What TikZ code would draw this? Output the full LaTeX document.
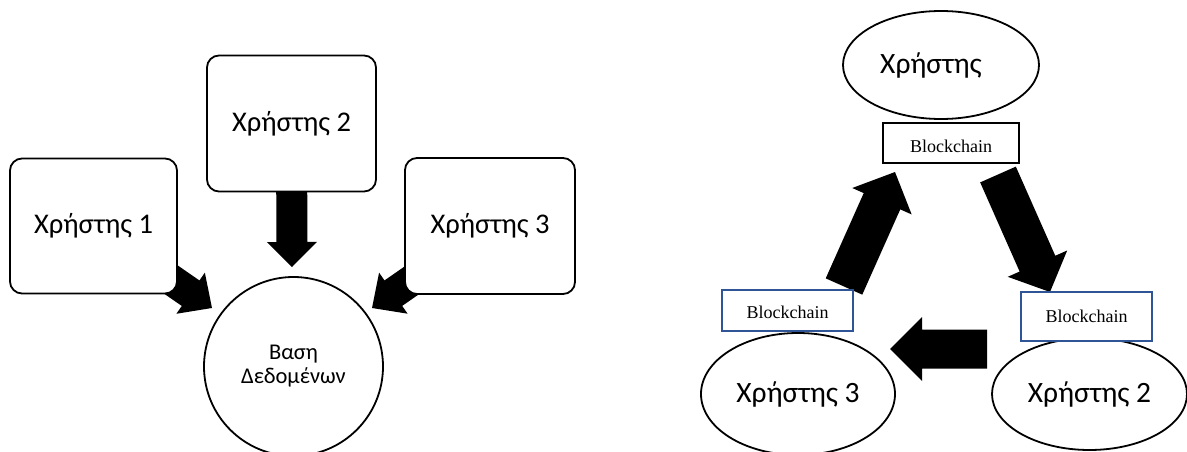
\documentclass[tikz,border=0pt]{standalone}
\usepackage{fontspec}
\setmainfont{Carlito}
\newfontfamily\timesf{Liberation Serif}
\usetikzlibrary{calc,backgrounds,shapes.geometric}
\definecolor{bblue}{RGB}{47,85,151}
% block arrow: #1 tail, #2 tip, #3 shaft half width, #4 head half width, #5 head length
\newcommand\blkarrow[5]{%
  \coordinate (ba-hb) at ($(#2)!#5!(#1)$);
  \fill[black] ($(#1)!#3!90:(#2)$) -- ($(ba-hb)!#3!90:(#2)$) -- ($(ba-hb)!#4!90:(#2)$)
    -- (#2) -- ($(ba-hb)!#4!-90:(#2)$) -- ($(ba-hb)!#3!-90:(#2)$) -- ($(#1)!#3!-90:(#2)$) -- cycle;
}
\tikzset{
  userbox/.style={draw, line width=1.8pt, rounded corners=12pt, fill=white, inner sep=0pt,
    minimum width=167pt, minimum height=135pt, font=\fontsize{28.5}{32}\selectfont},
  dbcircle/.style={circle, draw, line width=1.8pt, fill=white, inner sep=0pt,
    minimum size=179pt, align=center, font=\fontsize{22.5}{24}\selectfont},
  userell/.style={ellipse, draw, line width=1.8pt, fill=white, inner sep=0pt,
    font=\fontsize{29.5}{32}\selectfont},
  chainbox/.style={draw, line width=1.5pt, fill=white, inner sep=0pt,
    font=\timesf\fontsize{18}{20}\selectfont},
}
\begin{document}
\begin{tikzpicture}[x=1pt,y=-1pt]
\useasboundingbox (0,0) rectangle (1187,452);
\clip (0,0) rectangle (1187,452);
% left diagram
\node[userbox] (u1) at (93.5,226) {Χρήστης 1};
\node[userbox, minimum width=169pt, minimum height=136pt] (u2) at (291.5,123.5) {Χρήστης 2};
\node[userbox, minimum width=170pt, minimum height=136pt] (u3) at (490,226) {Χρήστης 3};
\node[dbcircle] (db) at (293.5,366.5) {Βαση\\Δεδομένων};
\coordinate (t1) at (212,308);
\coordinate (t2) at (292,267);
\coordinate (t3) at (372,308);
% right diagram
\node[userell, minimum width=196pt, minimum height=108pt] (r1) at (941,65) {Χρήστης\kern20pt};
\node[userell, minimum width=194pt, minimum height=122pt] (r3) at (798,394) {Χρήστης 3};
\node[userell, minimum width=195pt, minimum height=112pt] (r2) at (1089.5,394) {Χρήστης 2};
\node[chainbox, minimum width=136pt, minimum height=40pt] (c1) at (951,143) {\raisebox{-3.5pt}[\height][\depth]{Blockchain}};
\node[chainbox, draw=bblue, minimum width=131pt, minimum height=41pt] (c3) at (787.5,310.5) {\raisebox{-1.5pt}[\height][\depth]{Blockchain}};
\node[chainbox, draw=bblue, minimum width=131pt, minimum height=49pt] (c2) at (1086.5,316.5) {Blockchain};
\coordinate (a1s) at (844,286.5);
\coordinate (a1e) at (895,172);
\coordinate (a2s) at (998,174.5);
\coordinate (a2e) at (1050,292);
\coordinate (a3s) at (987,349);
\coordinate (a3e) at (890,349);
\begin{scope}[on background layer]
  \fill[white] (0,0) rectangle (1187,452);
  \blkarrow{u1.center}{t1}{15.5pt}{25pt}{26pt}
  \blkarrow{u2.center}{t2}{15.5pt}{25pt}{25pt}
  \blkarrow{u3.center}{t3}{15.5pt}{25pt}{26pt}
  \blkarrow{a1s}{a1e}{20pt}{32.5pt}{32pt}
  \blkarrow{a2s}{a2e}{19.5pt}{32.5pt}{31pt}
  \blkarrow{a3s}{a3e}{19.5pt}{32pt}{32pt}
\end{scope}
\end{tikzpicture}
\end{document}
